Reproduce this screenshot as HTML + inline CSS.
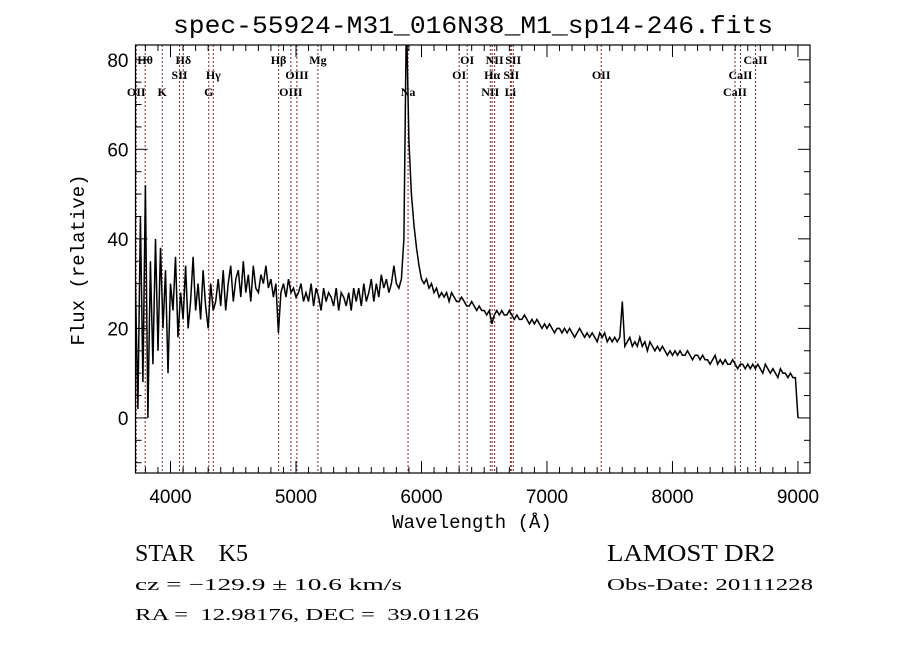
<!DOCTYPE html>
<html><head><meta charset="utf-8"><style>
html,body{margin:0;padding:0;background:#fff;}
svg{display:block;}
text{font-family:"Liberation Serif",serif;fill:#000;white-space:pre;}
.mono{font-family:"Liberation Mono",monospace;}
.sans{font-family:"Liberation Sans",sans-serif;}
</style></head><body>
<svg id="chart" width="900" height="649" viewBox="0 0 900 649" xmlns="http://www.w3.org/2000/svg" xml:space="preserve">
<rect width="900" height="649" fill="#fff"/>
<text class="mono" x="173" y="33" font-size="25" textLength="600" lengthAdjust="spacingAndGlyphs">spec-55924-M31_016N38_M1_sp14-246.fits</text>
<defs><clipPath id="plotclip"><rect x="135.5" y="45" width="674.5" height="428"/></clipPath></defs>
<g id="lines" clip-path="url(#plotclip)"></g>
<g id="labels"></g>
<g id="spec" clip-path="url(#plotclip)"></g>
<g id="axes"></g>
<text class="mono" x="472" y="528" font-size="19" text-anchor="middle">Wavelength (Å)</text>
<text class="mono" x="0" y="0" font-size="19" text-anchor="middle" transform="translate(84,260) rotate(-90)">Flux (relative)</text>
<text x="135" y="561" font-size="24" textLength="113" lengthAdjust="spacingAndGlyphs">STAR    K5</text>
<text x="607" y="561" font-size="24" textLength="168" lengthAdjust="spacingAndGlyphs">LAMOST DR2</text>
<text x="135" y="590" font-size="17" textLength="267" lengthAdjust="spacingAndGlyphs">cz = −129.9 ± 10.6 km/s</text>
<text x="607" y="590" font-size="17" textLength="206" lengthAdjust="spacingAndGlyphs">Obs-Date: 20111228</text>
<text x="135" y="620" font-size="17" textLength="344" lengthAdjust="spacingAndGlyphs">RA =  12.98176, DEC =  39.01126</text>
</svg>
<script>
const wlStart = 3700;
const wlStep = 20;
const flux = [
5,30,2,45,8,52,0,35,12,40,
15,38,20,33,10,30,24,36,18,28,
22,34,20,26,36,24,30,22,33,25,
20,30,24,26,31,25,33,24,30,34,
26,31,33,27,35,28,32,26,34,29,
28,32,30,34,29,31,27,30,19,28,
30,27,31,28,29,27,28,30,26,28,
26,30,25,29,27,24,29,26,28,27,
25,29,24,28,27,25,28,24,29,26,
29,25,30,26,28,31,26,30,27,32,
29,31,28,30,34,30,29,31,40,90,
62,50,43,38,34,31,30,31,29,30,
28,29,27,28,27,28,26,28,27,26,
26,27,26,25,25,26,25,24,25,24,
24,23,24,21,23,24,23,24,23,23,
24,23,22,23,22,22,23,22,21,22,
21,22,21,20,21,20,21,20,19,20,
20,19,20,19,20,19,18,19,20,19,
18,19,18,19,18,17,19,18,19,17,
18,17,18,17,18,26,16,17,18,16,
17,16,18,16,17,15,17,16,15,16,
15,16,15,14,15,14,15,14,15,14,
14,15,14,13,14,14,13,14,13,13,
12,13,14,12,13,12,13,12,12,13,
12,11,12,12,11,12,11,12,11,12,
11,10,12,11,10,11,10,9,11,10,
10,9,10,9,9,0
];
const lineWl = [3727,3798,3934,4072,4102,4305,4341,4861,4959,5007,5175,5893,6300,6364,6548,6563,6583,6708,6716,6731,7432,8498,8542,8662];
const lineLabels = ["OII","Hθ","K","SII","Hδ","G","Hγ","Hβ","OIII","OIII","Mg","Na","OI","OI","NII","Hα","NII","Li","SII","SII","OII","CaII","CaII","CaII"];
const lineRow = [3,1,3,2,1,3,2,1,3,2,1,3,2,1,3,2,1,3,2,1,2,3,2,1];
const xTicks = [4000,5000,6000,7000,8000,9000];
const yTicks = [0,20,40,60,80];

const L=135.5,R=810,T=45,B=473;
const xMin=3721,xMax=9096,yMin=-12.3,yMax=83.3;
const sx=w=>L+(w-xMin)/(xMax-xMin)*(R-L);
const sy=f=>B-(f-yMin)/(yMax-yMin)*(B-T);
const NS="http://www.w3.org/2000/svg";
function mk(tag,attrs,parent){const e=document.createElementNS(NS,tag);for(const k in attrs)e.setAttribute(k,attrs[k]);parent.appendChild(e);return e;}

const gl=document.getElementById('lines'), glab=document.getElementById('labels');
lineWl.forEach((w,i)=>{
  const l=mk('line',{x1:sx(w),x2:sx(w),y1:T,y2:B,stroke:'#7a2a2a','stroke-width':1,'stroke-dasharray':'2,2'},gl);
  
  
  const yy=[0,64,79,96][lineRow[i]];
  const t=mk('text',{x:sx(w),y:yy,'font-size':12,'text-anchor':'middle','font-weight':'bold'},glab);
  t.textContent=lineLabels[i];
  
  
});

let d='';
flux.forEach((f,i)=>{const w=Math.min(wlStart+i*wlStep,9000);d+=(i?'L':'M')+sx(w).toFixed(1)+','+sy(f).toFixed(1);});
const p=mk('path',{d:d,fill:'none',stroke:'#000','stroke-width':1.5,'stroke-linejoin':'miter'},document.getElementById('spec'));



const ga=document.getElementById('axes');
const fr=mk('rect',{x:L,y:T,width:R-L,height:B-T,fill:'none',stroke:'#000','stroke-width':1.2},ga);


for(let w=3800;w<=9000;w+=100){
  const len=(w%1000===0)?12:6;
  mk('line',{x1:sx(w),x2:sx(w),y1:B,y2:B-len,stroke:'#000'},ga);
  mk('line',{x1:sx(w),x2:sx(w),y1:T,y2:T+len,stroke:'#000'},ga);
}
xTicks.forEach(w=>{
  const t=mk('text',{x:sx(w),y:B+30,'font-size':19,'text-anchor':'middle',class:'sans'},ga);
  t.textContent=w;
  
  
});
for(let f=-10;f<=80;f+=5){
  const len=(f%20===0)?12:6;
  mk('line',{x1:L,x2:L+len,y1:sy(f),y2:sy(f),stroke:'#000'},ga);
  mk('line',{x1:R,x2:R-len,y1:sy(f),y2:sy(f),stroke:'#000'},ga);
}
yTicks.forEach(f=>{
  const t=mk('text',{x:L-7,y:sy(f)+7,'font-size':19,'text-anchor':'end',class:'sans'},ga);
  t.textContent=f;
  
  
});
</script>
</body></html>
